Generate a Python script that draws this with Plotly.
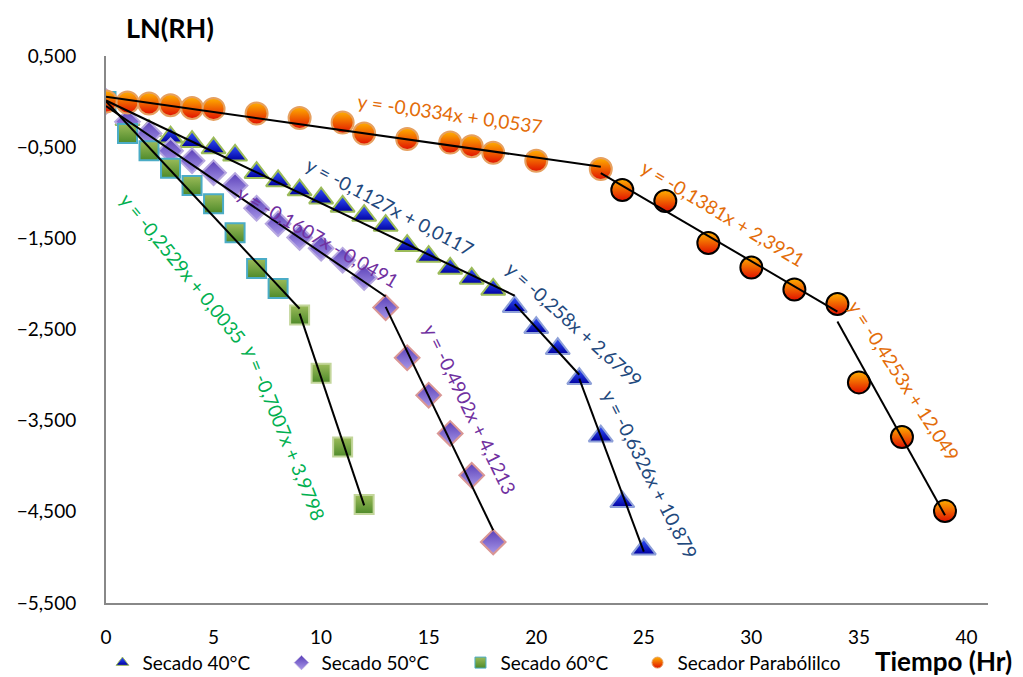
import plotly.graph_objects as go

# ---------------- data ----------------
t40 = list(range(0, 26))
v40 = [0.0, -0.20, -0.32, -0.39, -0.44, -0.51, -0.59, -0.78, -0.87, -0.97, -1.06, -1.15, -1.25,
       -1.36, -1.58, -1.70, -1.83, -1.94, -2.06, -2.25, -2.48, -2.71, -3.04, -3.67, -4.39, -4.91]

t50 = list(range(0, 19))
v50 = [0.0, -0.22, -0.35, -0.54, -0.65, -0.78, -0.92, -1.17, -1.34, -1.49, -1.61, -1.74, -1.93,
       -2.26, -2.81, -3.22, -3.64, -4.10, -4.83]

t60 = list(range(0, 13))
v60 = [0.0, -0.35, -0.54, -0.73, -0.92, -1.12, -1.44, -1.83, -2.05, -2.34, -2.98, -3.79, -4.42]

tpar = [0, 1, 2, 3, 4, 5, 7, 9, 11, 12, 14, 16, 17, 18, 20, 23, 24, 26, 28, 30, 32, 34, 35, 37, 39]
vpar = [0.0, -0.01, -0.02, -0.04, -0.07, -0.08, -0.13, -0.18, -0.23, -0.35, -0.41, -0.45, -0.49,
        -0.56, -0.65, -0.74, -0.97, -1.09, -1.55, -1.82, -2.06, -2.22, -3.08, -3.68, -4.49]

# trend segments: (slope, intercept, x_start, x_end)
fit_slopes = [-0.1127, -0.258, -0.6326, -0.1607, -0.4902, -0.2529, -0.7007, -0.0334, -0.1381, -0.4253]
fit_inter = [0.0117, 2.6799, 10.879, -0.0491, 4.1213, 0.0035, 3.9798, 0.0537, 2.3921, 12.049]
fit_x0 = [0, 19, 22, 0, 13, 0, 9, 0, 23, 34]
fit_x1 = [19, 22, 25, 13, 18, 9, 12, 23, 34, 39]
fit_labels = ["y = -0,1127x + 0,0117", "y = -0,258x + 2,6799", "y = -0,6326x + 10,879",
              "y = -0,1607x - 0,0491", "y = -0,4902x + 4,1213",
              "y = -0,2529x + 0,0035", "y = -0,7007x + 3,9798",
              "y = -0,0334x + 0,0537", "y = -0,1381x + 2,3921", "y = -0,4253x + 12,049"]

series_names = ["Secado 40°C", "Secado 50°C", "Secado 60°C", "Secador Parabólilco"]
x_ticks = [0, 5, 10, 15, 20, 25, 30, 35, 40]
y_ticks = [0.5, -0.5, -1.5, -2.5, -3.5, -4.5, -5.5]

# ---------------- styles ----------------
FONT = "Lato, 'Liberation Sans', sans-serif"
BLUE = "#1F497D"
PURPLE = "#7030A0"
GREEN = "#00B050"
ORANGE = "#E36C09"
label_colors = [BLUE, BLUE, BLUE, PURPLE, PURPLE, GREEN, GREEN, ORANGE, ORANGE, ORANGE]
# label placement (x data, y data, angle)
label_pos = [(13.2, -1.15, 28), (21.8, -2.44, 42), (25.3, -4.09, 63),
             (9.85, -1.48, 30), (16.9, -3.37, 64),
             (3.6, -1.83, 51), (8.3, -3.63, 68),
             (16.0, -0.13, 8), (28.7, -1.23, 31), (37.1, -3.06, 57)]

fig = go.Figure()

tri = dict(symbol="triangle-up", color="#3355FF", gradient=dict(type="vertical", color="#0000A0"))
dia = dict(symbol="diamond", color="#5A3FB8", gradient=dict(type="vertical", color="#A898E8"))
sq = dict(symbol="square", color="#9BBB59", gradient=dict(type="vertical", color="#4E8A2A"))
cir = dict(symbol="circle", color="#FFB000", gradient=dict(type="vertical", color="#E01000"))

line40 = ["#9BBB59" if t < 19 else "#8EA0D8" for t in t40]
fig.add_trace(go.Scatter(x=t40, y=v40, mode="markers", showlegend=False,
                         marker=dict(size=21, line=dict(color=line40, width=2), **tri)))
line50 = ["#B7A8E0" if t < 13 else "#D99694" for t in t50]
fig.add_trace(go.Scatter(x=t50, y=v50, mode="markers", showlegend=False,
                         marker=dict(size=19, line=dict(color=line50, width=2), **dia)))
line60 = ["#4BACC6" if t < 9 else "#C3D69B" for t in t60]
fig.add_trace(go.Scatter(x=t60, y=v60, mode="markers", showlegend=False,
                         marker=dict(size=19, line=dict(color=line60, width=2), **sq)))
linepar = ["#E6A060" if t < 24 else "#000000" for t in tpar]
fig.add_trace(go.Scatter(x=tpar, y=vpar, mode="markers", showlegend=False,
                         marker=dict(size=22, line=dict(color=linepar, width=2), **cir)))

for m, b, a, c in zip(fit_slopes, fit_inter, fit_x0, fit_x1):
    fig.add_trace(go.Scatter(x=[a, c], y=[m * a + b, m * c + b], mode="lines",
                             line=dict(color="black", width=2), showlegend=False,
                             hoverinfo="skip"))

# legend entries (small symbols as in the reference)
leg_lines = ["#9BBB59", "#B7A8E0", "#4BACC6", "#E6A060"]
leg_ids = ["legend", "legend", "legend", "legend2"]
for name, mk, lc, lg in zip(series_names, [tri, dia, sq, cir], leg_lines, leg_ids):
    fig.add_trace(go.Scatter(x=[None], y=[None], mode="markers", name=name, legend=lg,
                             marker=dict(size=11, line=dict(color=lc, width=1), **mk)))

for txt, col, (lx, ly, ang) in zip(fit_labels, label_colors, label_pos):
    fig.add_annotation(x=lx, y=ly, xref="x", yref="y", text=txt, showarrow=False,
                       textangle=ang, font=dict(family=FONT, size=19, color=col))

fig.add_annotation(x=0.0726, y=1.0, xref="paper", yref="paper", xanchor="center",
                   yanchor="middle", yshift=29, text="<b>LN(RH)</b>", showarrow=False,
                   font=dict(family=FONT, size=27, color="black"))
fig.add_annotation(x=1.029, y=-0.106, xref="paper", yref="paper", xanchor="right",
                   yanchor="middle", text="<b>Tiempo (Hr)</b>", showarrow=False,
                   font=dict(family=FONT, size=26, color="black"))

leg_common = dict(orientation="h", y=-0.0745, xanchor="left", yanchor="top",
                  font=dict(family=FONT, size=19, color="black"),
                  itemsizing="trace", tracegroupgap=0, bgcolor="rgba(0,0,0,0)")

# page body has an 8px margin, so the figure is sized/offset to compensate
fig.update_layout(
    width=1015, height=669, paper_bgcolor="white", plot_bgcolor="white",
    separators=",.",
    margin=dict(l=98, r=35, t=48, b=74, autoexpand=False),
    font=dict(family=FONT, size=19, color="black"),
    showlegend=True,
    legend=dict(x=-0.004, entrywidth=134, entrywidthmode="pixels", **leg_common),
    legend2=dict(x=0.6026, **leg_common),
)
fig.update_xaxes(range=[0, 41], tickvals=x_ticks, showgrid=False, zeroline=False,
                 showline=True, linecolor="#888888", linewidth=2, ticks="",
                 ticklabelstandoff=16, tickfont=dict(size=19))
fig.update_yaxes(range=[-5.5, 0.5], tickvals=y_ticks, tickformat=".3f", showgrid=False,
                 zeroline=False, showline=True, linecolor="#888888", linewidth=2, ticks="",
                 ticklabelstandoff=24, tickfont=dict(size=19))

fig.write_html("out.html")
